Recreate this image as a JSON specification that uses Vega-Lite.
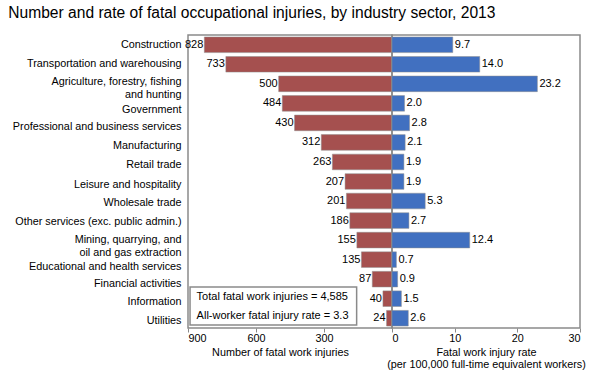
{
  "$schema": "https://vega.github.io/schema/vega-lite/v6.json",
  "padding": {"left": 5, "top": 5, "right": 5, "bottom": 5},
  "spacing": 0,
  "bounds": "flush",
  "title": {"text": "Number and rate of fatal occupational injuries, by industry sector, 2013", "anchor": "start", "frame": "bounds", "fontSize": 15.6, "fontWeight": "normal", "font": "Liberation Sans", "color": "#000", "offset": 13, "dx": 3},
  "config": {
    "font": "Liberation Sans",
    "view": {"stroke": "#8a8a8a", "strokeWidth": 1.5},
    "concat": {"spacing": 0},
    "axis": {"labelFont": "Liberation Sans", "titleFont": "Liberation Sans", "labelFontSize": 10.8, "titleFontSize": 10.8, "titleFontWeight": "normal", "labelColor": "#000", "titleColor": "#000", "grid": false}
  },
  "datasets": {
    "inj": [
      {"label": "Construction", "count": 828, "rate": 9.7},
      {"label": "Transportation and warehousing", "count": 733, "rate": 14.0},
      {"label": "Agriculture, forestry, fishing|and hunting", "count": 500, "rate": 23.2},
      {"label": "Government", "count": 484, "rate": 2.0},
      {"label": "Professional and business services", "count": 430, "rate": 2.8},
      {"label": "Manufacturing", "count": 312, "rate": 2.1},
      {"label": "Retail trade", "count": 263, "rate": 1.9},
      {"label": "Leisure and hospitality", "count": 207, "rate": 1.9},
      {"label": "Wholesale trade", "count": 201, "rate": 5.3},
      {"label": "Other services (exc. public admin.)", "count": 186, "rate": 2.7},
      {"label": "Mining, quarrying, and|oil and gas extraction", "count": 155, "rate": 12.4},
      {"label": "Educational and health services", "count": 135, "rate": 0.7},
      {"label": "Financial activities", "count": 87, "rate": 0.9},
      {"label": "Information", "count": 40, "rate": 1.5},
      {"label": "Utilities", "count": 24, "rate": 2.6}
    ],
    "note": [{"line": "Total fatal work injuries = 4,585", "pos": 13.42}, {"line": "All-worker fatal injury rate = 3.3", "pos": 14.4}]
  },
  "hconcat": [
    {
      "width": 204,
      "height": 293,
      "resolve": {"scale": {"y": "independent"}},
      "layer": [
        {
          "data": {"name": "inj"},
          "mark": {"type": "bar", "color": "#a5504f", "stroke": "#8f8f8f", "strokeWidth": 0.5},
          "encoding": {
            "y": {"field": "label", "type": "nominal", "sort": null, "scale": {"paddingInner": 0.2, "paddingOuter": 0.1},
              "axis": {"title": null, "ticks": false, "domain": false, "labelPadding": 7, "labelLimit": 0, "labelOverlap": false, "minExtent": 182, "maxExtent": 182, "labelExpr": "split(datum.label, '|')", "labelLineHeight": 13,
                "labelOffset": {"condition": [
                  {"test": "datum.value == 'Government' || datum.value == 'Educational and health services'", "value": 7},
                  {"test": "datum.value == 'Financial activities'", "value": 5},
                  {"test": "datum.value == 'Professional and business services' || datum.value == 'Manufacturing'", "value": 4},
                  {"test": "datum.value == 'Retail trade' || datum.value == 'Leisure and hospitality' || datum.value == 'Information' || datum.value == 'Utilities'", "value": 3},
                  {"test": "datum.value == 'Wholesale trade'", "value": 2},
                  {"test": "datum.value == 'Other services (exc. public admin.)'", "value": 1},
                  {"test": "datum.value == 'Agriculture, forestry, fishing|and hunting'", "value": -2}
                ], "value": 0}}},
            "x": {"field": "count", "type": "quantitative", "scale": {"domain": [0, 900], "reverse": true, "nice": false},
              "axis": {"title": "Number of fatal work injuries", "titleX": 92, "values": [900, 600, 300], "domain": false, "tickColor": "#8a8a8a", "tickSize": 4, "labelPadding": 0, "titlePadding": 4}}
          }
        },
        {
          "data": {"name": "inj"},
          "mark": {"type": "text", "align": "right", "baseline": "middle", "dx": -1, "fontSize": 11, "color": "#000"},
          "encoding": {
            "y": {"field": "label", "type": "nominal", "sort": null, "scale": {"paddingInner": 0.2, "paddingOuter": 0.1}, "axis": null},
            "x": {"field": "count", "type": "quantitative", "scale": {"domain": [0, 900], "reverse": true, "nice": false}},
            "text": {"field": "count", "type": "quantitative", "format": "d"}
          }
        },
        {
          "data": {"values": [{}]},
          "mark": {"type": "rect", "fill": "#fff", "stroke": "#8a8a8a", "strokeWidth": 1.5},
          "encoding": {
            "x": {"datum": 891, "type": "quantitative", "scale": {"domain": [0, 900], "reverse": true, "nice": false}},
            "x2": {"datum": 156},
            "y": {"datum": 12.9, "type": "quantitative", "scale": {"domain": [0, 15], "reverse": true, "nice": false, "zero": false}, "axis": null},
            "y2": {"datum": 14.85}
          }
        },
        {
          "data": {"name": "note"},
          "mark": {"type": "text", "align": "left", "baseline": "middle", "fontSize": 11, "color": "#000"},
          "encoding": {
            "x": {"datum": 862, "type": "quantitative", "scale": {"domain": [0, 900], "reverse": true, "nice": false}},
            "y": {"field": "pos", "type": "quantitative", "scale": {"domain": [0, 15], "reverse": true, "nice": false, "zero": false}, "axis": null},
            "text": {"field": "line"}
          }
        }
      ]
    },
    {
      "width": 188,
      "height": 293,
      "data": {"name": "inj"},
      "encoding": {
        "y": {"field": "label", "type": "nominal", "sort": null, "scale": {"paddingInner": 0.2, "paddingOuter": 0.1}, "axis": null},
        "x": {"field": "rate", "type": "quantitative", "scale": {"domain": [0, 30], "nice": false},
          "axis": {"title": ["Fatal work injury rate", "(per 100,000 full-time equivalent workers)"], "values": [0, 10, 20, 30], "domain": false, "tickColor": "#8a8a8a", "tickSize": 4, "labelPadding": 0, "titlePadding": 4, "titleLineHeight": 12}}
      },
      "layer": [
        {"mark": {"type": "bar", "color": "#4170c0", "stroke": "#8f8f8f", "strokeWidth": 0.5}},
        {"mark": {"type": "text", "align": "left", "baseline": "middle", "dx": 2, "fontSize": 11, "color": "#000"},
          "encoding": {"text": {"field": "rate", "type": "quantitative", "format": ".1f"}}}
      ]
    }
  ]
}
